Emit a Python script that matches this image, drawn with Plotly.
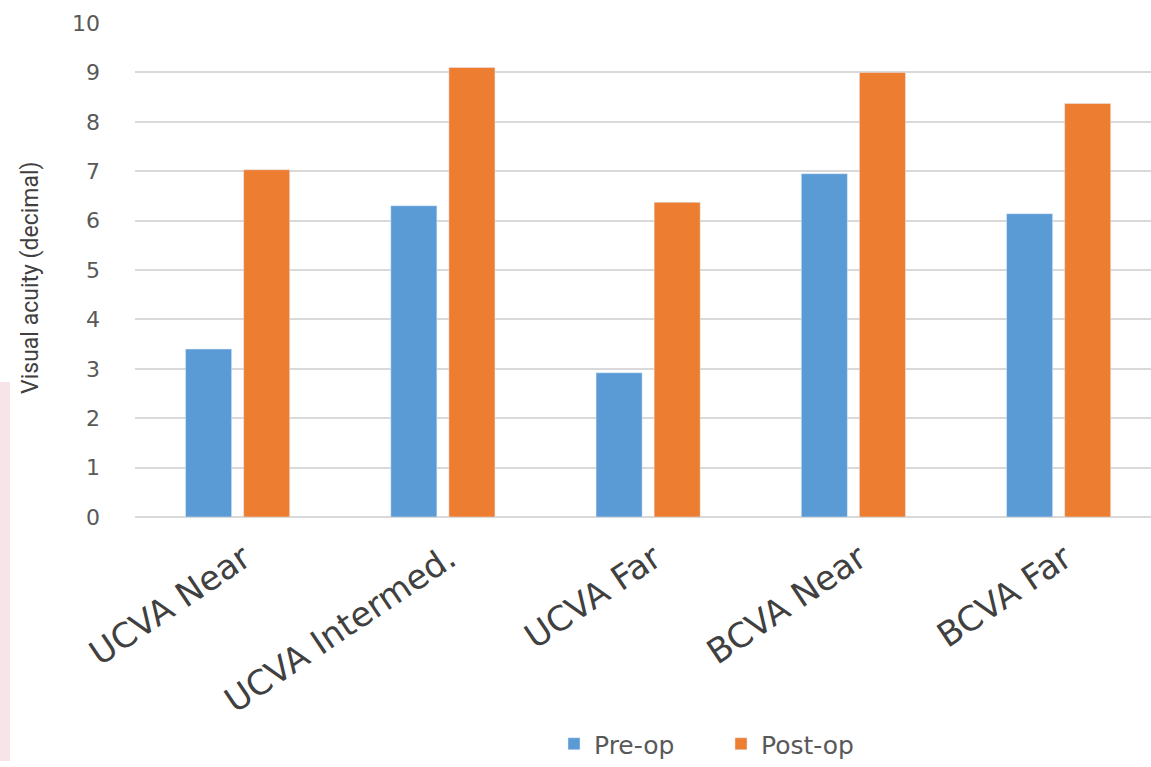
import plotly.graph_objects as go

categories = ["UCVA Near", "UCVA Intermed.", "UCVA Far", "BCVA Near", "BCVA Far"]
pre_op = [3.4, 6.3, 2.92, 6.95, 6.14]
post_op = [7.03, 9.1, 6.37, 9.0, 8.37]
y_ticks = list(range(0, 11))
y_title = "Visual acuity (decimal)"

W, H = 1151, 767
ml, mr, mt, mb = 135, 0, 23, 246
pw, ph = W - ml - mr, H - mt - mb

fig = go.Figure()
fig.add_trace(go.Bar(x=categories, y=pre_op, name="Pre-op", marker_color="#5B9BD5"))
fig.add_trace(go.Bar(x=categories, y=post_op, name="Post-op", marker_color="#ED7D31"))

fig.update_layout(
    width=W, height=H,
    margin=dict(l=ml, r=mr, t=mt, b=mb, pad=0),
    plot_bgcolor="white", paper_bgcolor="white",
    barmode="group", bargap=0.434, bargroupgap=0.207,
    showlegend=True,
    legend=dict(orientation="h", x=(554 - ml) / pw, xanchor="left", y=(521 - 750) / ph, yanchor="middle",
                font=dict(family="DejaVu Sans", size=25, color="#595959"),
                itemwidth=30, entrywidth=122, entrywidthmode="pixels", traceorder="normal"),
    xaxis=dict(range=[-0.5, 4.45], showgrid=False, showline=False, zeroline=False,
               tickangle=-34, ticks="", ticklabelstandoff=14, ticklabelshift=6,
               tickfont=dict(family="DejaVu Sans", size=34, color="#404040")),
    yaxis=dict(range=[0, 10], tickvals=y_ticks, showgrid=True, gridcolor="#d9d9d9", gridwidth=2,
               zeroline=True, zerolinecolor="#d9d9d9", zerolinewidth=2, showline=False,
               ticks="", ticklabelstandoff=34,
               tickfont=dict(family="DejaVu Sans", size=22, color="#595959")),
    annotations=[dict(text=y_title, textangle=-90, xref="paper", yref="paper",
                      x=-(ml - 31) / pw, y=(521 - 280) / ph, xanchor="center", yanchor="middle",
                      showarrow=False,
                      font=dict(family="Liberation Sans Narrow, Roboto", size=23, color="#404040"))],
    shapes=[dict(type="rect", xref="paper", yref="paper", x0=-ml / pw, x1=-(ml - 10) / pw,
                 y0=-mb / ph, y1=(521 - 385) / ph,
                 fillcolor="#f6e4e8", line=dict(width=0), layer="below")],
)

fig.write_html("out.html")
